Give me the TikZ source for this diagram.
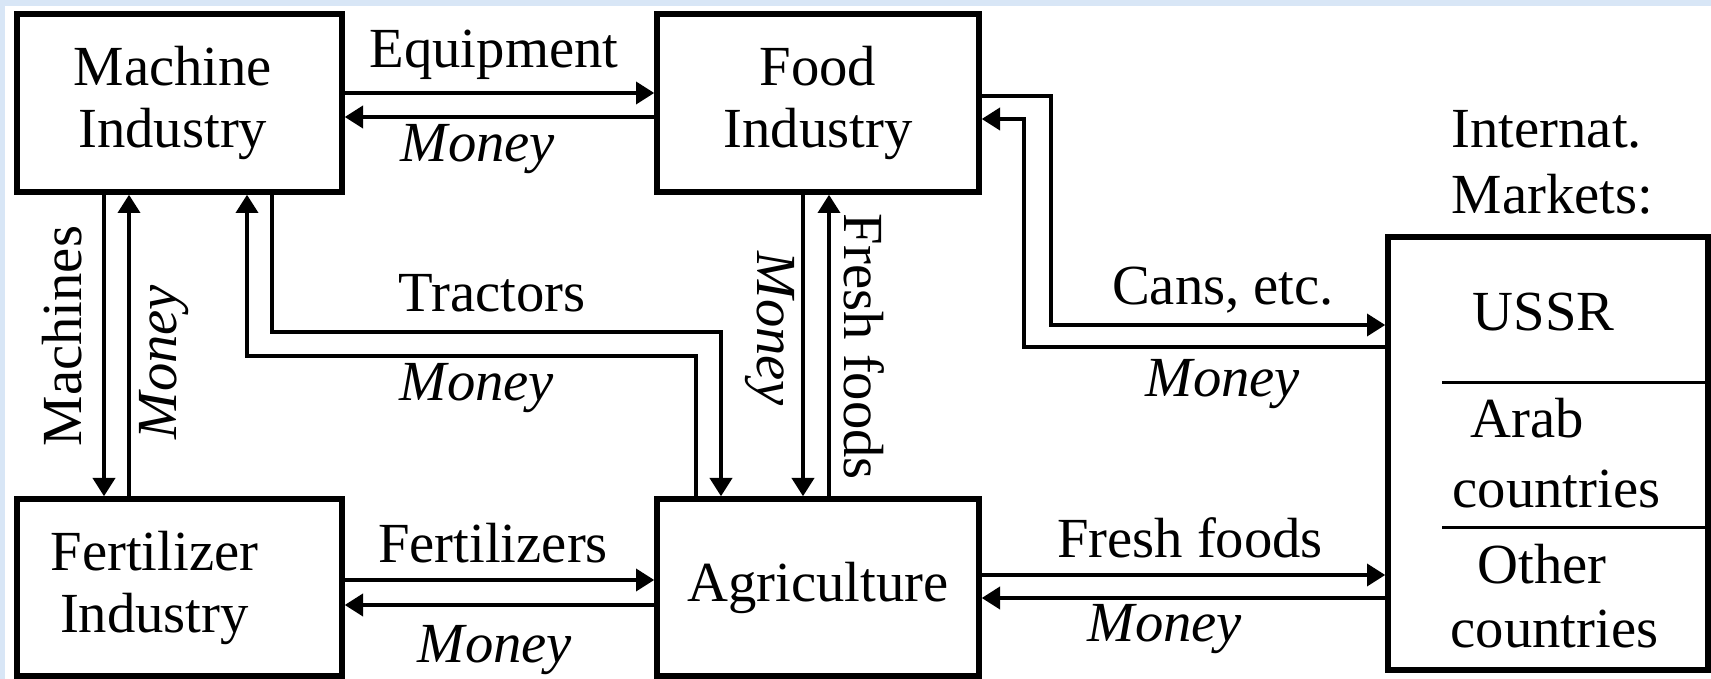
\documentclass[tikz,border=0pt]{standalone}
\usepackage{fontspec}
\setmainfont{Liberation Serif}
\usetikzlibrary{arrows.meta}
\definecolor{pageblue}{RGB}{216,230,246}

\begin{document}
\begin{tikzpicture}[x=0.3pt,y=0.3pt,
  every node/.style={inner sep=0pt,font=\fontsize{17}{18.6}\selectfont},
  box/.style={draw,line width=1.6pt,fill=white,align=center},
  money/.style={font=\fontsize{17}{18.6}\selectfont\itshape},
  flow/.style={line width=1.4pt,-{Triangle[length=5.5pt,width=6.5pt]}}]
\useasboundingbox (0,0) rectangle (1711,679);
\fill[pageblue] (0,0) rectangle (1711,679);
\fill[white] (5,0) rectangle (1711,673);

% sectors
\node[box,minimum width=97.5pt,minimum height=53.4pt] (mach) at (179.5,576)  {Machine\hspace*{4pt}\\Industry\hspace*{4pt}};
\node[box,minimum width=96.6pt,minimum height=53.4pt] (food) at (818,576)    {Food\\Industry};
\node[box,minimum width=97.5pt,minimum height=53.1pt] (fert) at (179.5,91.5) {Fertilizer\hspace*{15pt}\\Industry\hspace*{15pt}};
\node[box,minimum width=96.6pt,minimum height=53.1pt] (agri) at (818,91.5)   {Agriculture};
\node[box,minimum width=96pt,minimum height=129.9pt]  (mkt)  at (1548,225.5) {};

% machine <-> food
\coordinate (eq) at (0,586);
\coordinate (em) at (0,562);
\draw[flow] (eq -| mach.east) -- (eq -| food.west);
\draw[flow] (em -| food.west) -- (em -| mach.east);
\node[anchor=base] (eqL) at (494,611) {Equipment};
\node[money,anchor=base] (emL) at (478,517) {Money};

% machine <-> fertilizer
\coordinate (ma) at (104,0);
\coordinate (mm) at (129,0);
\draw[flow] (ma |- mach.south) -- (ma |- fert.north);
\draw[flow] (mm |- fert.north) -- (mm |- mach.south);
\node[rotate=90] (maL) at (62,343) {Machines};
\node[money,rotate=90] (mmL) at (164,317) {Money};

% machine <-> agriculture
\coordinate (trL) at (272,347);
\coordinate (trR) at (721,347);
\coordinate (mnL) at (247,323);
\coordinate (mnR) at (696,323);
\draw[flow] (trL |- mach.south) -- (trL) -- (trR) -- (trR |- agri.north);
\draw[flow] (mnR |- agri.north) -- (mnR) -- (mnL) -- (mnL |- mach.south);
\node[anchor=base] (trLbl) at (492,367) {Tractors};
\node[money,anchor=base] (mnLbl) at (477,278) {Money};

% food <-> agriculture
\coordinate (fd) at (803,0);
\coordinate (fr) at (829,0);
\draw[flow] (fd |- food.south) -- (fd |- agri.north);
\draw[flow] (fr |- agri.north) -- (fr |- food.south);
\node[money,rotate=-90] (fdL) at (770,350) {Money};
\node[rotate=-90] (frL) at (864,332) {Fresh foods};

% fertilizer <-> agriculture
\coordinate (fz) at (0,99);
\coordinate (fm) at (0,74);
\draw[flow] (fz -| fert.east) -- (fz -| agri.west);
\draw[flow] (fm -| agri.west) -- (fm -| fert.east);
\node[anchor=base] (fzL) at (493,116) {Fertilizers};
\node[money,anchor=base] (fmL) at (495,16) {Money};

% food <-> markets
\coordinate (cnT) at (1051,583);
\coordinate (cnB) at (1051,354);
\coordinate (cmT) at (1024,560);
\coordinate (cmB) at (1024,332);
\draw[flow] (cnT -| food.east) -- (cnT) -- (cnB) -- (cnB -| mkt.west);
\draw[flow] (cmB -| mkt.west) -- (cmB) -- (cmT) -- (cmT -| food.east);
\node[anchor=base] (cnL) at (1223,374) {Cans, etc.};
\node[money,anchor=base] (cmL) at (1223,282) {Money};

% agriculture <-> markets
\coordinate (ff) at (0,104);
\coordinate (fp) at (0,81);
\draw[flow] (ff -| agri.east) -- (ff -| mkt.west);
\draw[flow] (fp -| mkt.west) -- (fp -| agri.east);
\node[anchor=base] (ffL) at (1190,121) {Fresh foods};
\node[money,anchor=base] (fpL) at (1165,37) {Money};

% markets
\node[anchor=base west] (int1) at (1451,531) {Internat.};
\node[anchor=base west] (int2) at (1451,465) {Markets:};
\coordinate (s1) at (1442,296);
\coordinate (s2) at (1442,151);
\draw[line width=0.9pt] (s1) -- (s1 -| mkt.east);
\draw[line width=0.9pt] (s2) -- (s2 -| mkt.east);
\node[anchor=base west] (ussr)  at (1472,348) {USSR};
\node[anchor=base west] (arab)  at (1470,241) {Arab};
\node[anchor=base west] (arabc) at (1452,171) {countries};
\node[anchor=base west] (oth)   at (1477,95)  {Other};
\node[anchor=base west] (othc)  at (1450,31)  {countries};
\end{tikzpicture}
\end{document}
